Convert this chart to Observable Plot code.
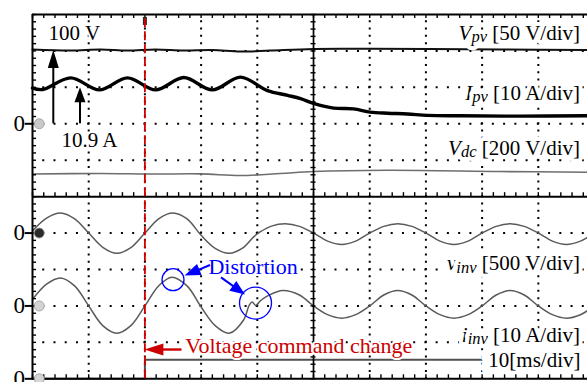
<!DOCTYPE html>
<html><head><meta charset="utf-8">
<script src="https://cdn.jsdelivr.net/npm/d3@7"></script>
<script src="https://cdn.jsdelivr.net/npm/@observablehq/plot@0.6"></script>
<style>
html,body{margin:0;padding:0;background:#fff;}
#chart{width:587px;height:382px;overflow:hidden;}
</style>
</head><body><div id="chart"></div>
<script>
// ---- axes: time in ms (10 ms/div), vertical in scope divisions ----
const timeDomain = [0, 98.75];
const divDomain = [0, 10];
const gridTimes = [10, 20, 30, 40, 60, 70, 80, 90];
const gridDivs = [1, 2, 3, 4, 6, 7, 8, 9];
const borderDivs = [0, 5, 10];
const centerTime = 50;

// ---- channels (zero position in divisions, units per division) ----
const chVpv = {zero: 7, perDiv: 50};    // V
const chIpv = {zero: 7, perDiv: 10};    // A
const chVdc = {zero: 3, perDiv: 200};   // V
const chVinv = {zero: 4, perDiv: 500};  // V
const chIinv = {zero: 2, perDiv: 10};   // A

// ---- traces ----
const tVpv = [0, 6.8, 12.1, 16.9, 21.9, 26.9, 32.0, 37.0, 42.3, 50.0, 60.0, 70.8, 83.3, 98.75];
const vpv  = [102, 100.6, 102, 100.6, 102, 100.6, 101.3, 99.2, 100.6, 102.7, 102.9, 102.7, 102, 101.3];

const tIpv = [0, 1.8, 6.8, 11.9, 16.9, 21.9, 26.9, 32.0, 37.0, 41.8, 45.4, 47.7, 50.0, 53.6, 57.1, 60.1, 63.2, 66.7, 70.3, 76.2, 86.8, 98.75];
const ipv  = [9.8, 9.4, 12.6, 9.3, 12.6, 9.3, 12.7, 9.3, 12.8, 9.1, 7.8, 6.9, 5.6, 4.3, 4.1, 3.2, 2.9, 2.7, 2.3, 2.2, 2.1, 2.2];

const tVdc = [0, 12.1, 21.0, 29.9, 37.0, 44.1, 50.0, 63.2, 83.3, 98.75];
const vdc  = [524, 527, 524, 525, 516, 527, 538, 545, 538, 534];

const tVinv = [0, 2.5, 5, 7.5, 10, 12.5, 15, 17.5, 20, 22.5, 25, 27.5, 30, 32.5, 35, 37.5, 39.3, 40.5, 42.5, 45, 47.5, 50, 52.5, 55, 57.5, 60, 62.5, 65, 67.5, 70, 72.5, 75, 77.5, 80, 82.5, 85, 87.5, 90, 92.5, 95, 97.5, 98.75];
const vinv  = [30, 205, 275, 195, 0, -195, -278, -200, 0, 200, 275, 195, -30, -210, -278, -200, -56, 15, 95, 128, 92, 0, -110, -156, -110, 0, 92, 128, 92, 0, -110, -156, -110, 0, 92, 128, 92, 0, -110, -156, -110, -58];

const tIinv = [0, 2.5, 5, 7.5, 10, 12.5, 15, 17.5, 20, 22.5, 24.8, 27.5, 30, 32.5, 35, 37.5, 38.6, 39.1, 39.7, 40.6, 42.0, 44.5, 47.5, 50, 52.5, 55, 57.5, 60, 62.5, 65, 67.5, 70, 72.5, 75, 77.5, 80, 82.5, 85, 87.5, 90, 92.5, 95, 97.5, 98.75];
const iinv  = [1.8, 6.0, 7.7, 5.5, 0, -5.4, -7.5, -5.4, 0, 5.6, 7.9, 5.5, -0.3, -5.4, -7.5, -4.0, 0.3, 1.05, 0.15, 1.5, 2.9, 4.25, 3.0, 0, -2.4, -3.35, -2.4, 0, 3.0, 4.25, 3.0, 0, -2.4, -3.35, -2.4, 0, 3.0, 4.25, 3.0, 0, -2.4, -3.35, -2.4, -1.3];

// voltage command channel (divisions)
const tCmd = [0, 20, 20, 98.75];
const cmd  = [0, 0, 0.52, 0.52];

// ---- channel labels ----
const labelMain  = ["V", "I", "V", "v", "i"];
const labelSub   = ["pv", "pv", "dc", "inv", "inv"];
const labelScale = ["[50 V/div]", "[10 A/div]", "[200 V/div]", "[500 V/div]", "[10 A/div]"];
const labelDiv   = [9.30, 7.64, 6.13, 2.97, 1.0];
const labelTime  = 97.5;
const timebaseLabel = "10[ms/div]";

// ---- zero references ----
const zeroDivs = [7, 4, 2, 0];
const zeroText = ["0", "0", "0", "0"];
const zeroFill = ["#c9c9c9", "#2b2b2b", "#d4d4d4", "#d4d4d4"];

// ---- annotations ----
const notes = [
  {text: "100 V", t: 2.85, d: 9.31, color: "#000", size: 21},
  {text: "10.9 A", t: 5.16, d: 6.36, color: "#000", size: 21},
  {text: "Distortion", t: 31.3, d: 2.89, color: "#0000ff", size: 22},
  {text: "Voltage command change", t: 27.2, d: 0.71, color: "#cc0000", size: 22}
];
const arrows = [
  {t1: 3.79, d1: 7.0, t2: 3.79, d2: 9.01, len: 18, w: 11, color: "#000", sw: 2},
  {t1: 8.54, d1: 7.0, t2: 8.54, d2: 7.99, len: 15, w: 11, color: "#000", sw: 2},
  {t1: 26.6, d1: 0.79, t2: 20.0, d2: 0.79, len: 19, w: 12, color: "#cc0000", sw: 2.4},
  {t1: 31.67, d1: 3.11, t2: 27.14, d2: 2.82, len: 16, w: 12, color: "#0000ff", sw: 2},
  {t1: 33.63, d1: 2.77, t2: 37.9, d2: 2.30, len: 15, w: 12, color: "#0000ff", sw: 2}
];
const circles = [{t: 25.0, d: 2.72, r: 11}, {t: 39.68, d: 2.08, r: 16}];
const commandTime = 20;

const serif = "'Liberation Serif', 'Times New Roman', serif";
const minorT = d3.range(0, 98.8, 2);
const minorD = d3.range(0, 10.001, 0.2);
const tkD = 0.11, tkT = 0.72, tkC = 0.45;

const rows = (ts, vs, ch) => ts.map((t, i) => ({t, d: ch ? ch.zero + vs[i] / ch.perDiv : vs[i]}));

function arrowMark(list) {
  return (index, scales) => {
    const g = d3.create("svg:g");
    for (const a of list) {
      const x1 = scales.x(a.t1), y1 = scales.y(a.d1), x2 = scales.x(a.t2), y2 = scales.y(a.d2);
      const ang = Math.atan2(y2 - y1, x2 - x1), c = Math.cos(ang), s = Math.sin(ang);
      const bx = x2 - a.len * c, by = y2 - a.len * s;
      g.append("line").attr("x1", x1).attr("y1", y1).attr("x2", bx + c).attr("y2", by + s)
        .attr("stroke", a.color).attr("stroke-width", a.sw);
      const h = a.w / 2;
      g.append("path").attr("d", `M${x2},${y2}L${bx - s * h},${by + c * h}L${bx + s * h},${by - c * h}Z`)
        .attr("fill", a.color);
    }
    return g.node();
  };
}

function channelLabels(index, scales) {
  const g = d3.create("svg:g").attr("font-family", serif).attr("font-size", 21).attr("fill", "#000");
  labelMain.forEach((m, i) => {
    const t = g.append("text").attr("x", scales.x(labelTime)).attr("y", scales.y(labelDiv[i]))
      .attr("text-anchor", "end").attr("stroke", "#fff").attr("stroke-width", 8)
      .attr("stroke-linejoin", "round").attr("paint-order", "stroke");
    t.append("tspan").attr("font-style", "italic").text(m);
    t.append("tspan").attr("font-style", "italic").attr("font-size", 16.5).attr("dy", 2.5).text(labelSub[i]);
    t.append("tspan").attr("dy", -2.5).text(" " + labelScale[i]);
  });
  return g.node();
}

const chart = Plot.plot({
  width: 587, height: 382,
  marginLeft: 32, marginRight: 0, marginTop: 14, marginBottom: 3.7,
  x: {domain: timeDomain, axis: null},
  y: {domain: divDomain, axis: null},
  style: {fontFamily: serif, background: "#fff"},
  marks: [
    // dotted graticule
    Plot.ruleY(gridDivs, {x1: 0, x2: timeDomain[1], stroke: "#000", strokeWidth: 2, strokeDasharray: "2 9.2406", strokeDashoffset: 1}),
    Plot.ruleX(gridTimes, {y1: 0, y2: 10, stroke: "#000", strokeWidth: 2, strokeDasharray: "2 5.286", strokeDashoffset: 1}),
    // traces
    Plot.line(rows(tCmd, cmd), {x: "t", y: "d", stroke: "#505050", strokeWidth: 2}),
    Plot.line(rows(tVdc, vdc, chVdc), {x: "t", y: "d", stroke: "#6e6e6e", strokeWidth: 1.6, curve: "catmull-rom"}),
    Plot.line(rows(tVpv, vpv, chVpv), {x: "t", y: "d", stroke: "#111", strokeWidth: 2, curve: "catmull-rom"}),
    Plot.line(rows(tIpv, ipv, chIpv), {x: "t", y: "d", stroke: "#000", strokeWidth: 3.4, curve: "catmull-rom"}),
    Plot.line(rows(tVinv, vinv, chVinv), {x: "t", y: "d", stroke: "#5a5a5a", strokeWidth: 1.5, curve: "catmull-rom"}),
    Plot.line(rows(tIinv, iinv, chIinv), {x: "t", y: "d", stroke: "#5a5a5a", strokeWidth: 1.5, curve: "catmull-rom"}),
    // labels
    Plot.text([timebaseLabel], {x: labelTime, y: 0.32, text: d => d, textAnchor: "end", lineAnchor: "bottom", fontSize: 21, fontFamily: serif, fill: "#000", stroke: "#fff", strokeWidth: 18, paintOrder: "stroke", strokeLinejoin: "round"}),
    channelLabels,
    // frame & ticks
    Plot.ruleY(borderDivs, {x1: 0, x2: timeDomain[1], stroke: "#000", strokeWidth: 2}),
    Plot.ruleX([0], {y1: 0, y2: 10, stroke: "#000", strokeWidth: 2}),
    Plot.ruleX([centerTime], {y1: 0, y2: 10, stroke: "#000", strokeWidth: 1.7}),
    Plot.ruleX(minorT, {y1: 10, y2: 10 - tkD, stroke: "#000", strokeWidth: 1.4}),
    Plot.ruleX(minorT, {y1: 5, y2: 5 + tkD, stroke: "#000", strokeWidth: 1.4}),
    Plot.ruleX(minorT, {y1: 0, y2: tkD, stroke: "#000", strokeWidth: 1.4}),
    Plot.ruleY(minorD, {x1: 0, x2: tkT, stroke: "#000", strokeWidth: 1.4}),
    Plot.ruleY(minorD, {x1: centerTime - tkC, x2: centerTime + tkC, stroke: "#000", strokeWidth: 1.4}),
    // zero references
    Plot.ruleY(zeroDivs, {x1: -1.3, x2: 0, stroke: "#000", strokeWidth: 2}),
    Plot.dot(zeroDivs, {x: 1.2, y: d => d, r: 5, fill: (d, i) => zeroFill[i], stroke: "#999", strokeWidth: 0.8}),
    Plot.text(zeroDivs, {x: -1.35, y: d => d, text: (d, i) => zeroText[i], textAnchor: "end", fontSize: 23, fontFamily: serif, fill: "#000"}),
    // annotations
    Plot.text(notes, {x: "t", y: "d", text: "text", fill: d => d.color, fontSize: d => d.size, textAnchor: "start", lineAnchor: "bottom", fontFamily: serif, stroke: "#fff", strokeWidth: 4, paintOrder: "stroke", strokeLinejoin: "round"}),
    Plot.dot([circles[0]], {x: "t", y: "d", r: circles[0].r, stroke: "#0000ff", strokeWidth: 1.3, fill: "none"}),
    Plot.dot([circles[1]], {x: "t", y: "d", r: circles[1].r, stroke: "#0000ff", strokeWidth: 1.3, fill: "none"}),
    arrowMark(arrows),
    // command-change marker
    Plot.ruleX([commandTime], {y1: 9.70, y2: 9.92, stroke: "#2a2a2a", strokeWidth: 4}),
    Plot.ruleX([commandTime], {y1: 0, y2: 10, stroke: "#d40000", strokeWidth: 1.8, strokeDasharray: "9 4"})
  ]
});
document.getElementById("chart").appendChild(chart);
</script>
</body></html>
